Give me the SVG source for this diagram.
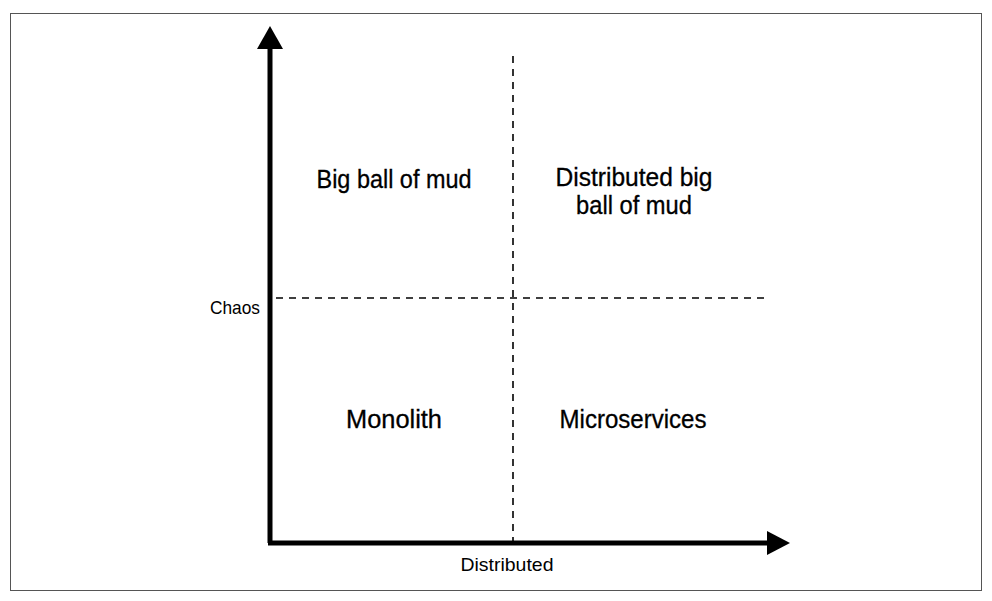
<svg xmlns="http://www.w3.org/2000/svg" width="992" height="601" viewBox="0 0 992 601">
<style>
.lbl{font-family:"Liberation Sans",Arial,sans-serif;fill:#000;}
.big{font-size:25px;stroke:#000;stroke-width:0.3;}
.small{font-size:19px;}
.axis{stroke:#000;stroke-width:5;fill:none;}
.dash{stroke:#000;stroke-width:1.6;stroke-dasharray:7,6;fill:none;}
</style>
<rect x="0" y="0" width="992" height="601" fill="#fff"/>
<rect x="10.5" y="13.5" width="971" height="577" fill="#fff" stroke="#555" stroke-width="1"/>
<g id="connectors">
<line class="dash" x1="513" y1="56" x2="513" y2="541"/>
<line class="dash" x1="276" y1="298" x2="766" y2="298"/>
<line class="axis" x1="270" y1="48" x2="270" y2="543"/>
<line class="axis" x1="268" y1="543" x2="768" y2="543"/>
<polygon points="270,26 283,49 257,49" fill="#000"/>
<polygon points="790,543 767,531 767,555" fill="#000"/>
</g>
<g id="big-ball-of-mud"><text class="lbl big" x="394" y="188" text-anchor="middle" textLength="155" lengthAdjust="spacingAndGlyphs">Big ball of mud</text></g>
<g id="distributed-big-ball-of-mud">
<text class="lbl big" x="634" y="186" text-anchor="middle" textLength="157" lengthAdjust="spacingAndGlyphs">Distributed big</text>
<text class="lbl big" x="634" y="214" text-anchor="middle" textLength="116" lengthAdjust="spacingAndGlyphs">ball of mud</text>
</g>
<g id="monolith"><text class="lbl big" x="394" y="428" text-anchor="middle" textLength="96" lengthAdjust="spacingAndGlyphs">Monolith</text></g>
<g id="microservices"><text class="lbl big" x="633" y="428" text-anchor="middle" textLength="147" lengthAdjust="spacingAndGlyphs">Microservices</text></g>
<g id="chaos"><text class="lbl small" x="235" y="314" text-anchor="middle" textLength="50" lengthAdjust="spacingAndGlyphs">Chaos</text></g>
<g id="distributed"><text class="lbl small" x="507" y="571" text-anchor="middle" textLength="93" lengthAdjust="spacingAndGlyphs">Distributed</text></g>
</svg>
